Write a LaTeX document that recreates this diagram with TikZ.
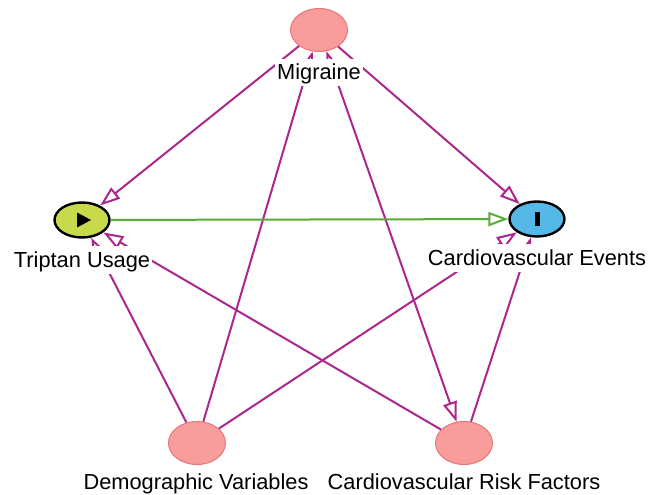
\documentclass[tikz,border=0pt]{standalone}
\usepackage{fontspec}
\setmainfont{Liberation Sans}
\usepackage{tikz}
\usetikzlibrary{shapes,arrows.meta}
\usepackage{color}

\definecolor{varfill}{RGB}{249,156,156}
\definecolor{varline}{RGB}{232,118,118}
\definecolor{expfill}{RGB}{200,218,76}
\definecolor{outfill}{RGB}{86,184,230}
\definecolor{biasedge}{RGB}{172,38,140}
\definecolor{causaledge}{RGB}{86,172,52}

\tikzset{
  var/.style={ellipse, draw=varline, fill=varfill, line width=1pt,
    minimum width=57pt, minimum height=43pt, inner sep=0pt},
  exposure/.style={var, draw=black, fill=expfill, line width=2.4pt,
    minimum width=55pt, minimum height=35pt},
  outcome/.style={exposure, fill=outfill},
  varlabel/.style={anchor=base, fill=white, inner sep=2pt,
    text height=19pt, text depth=4.5pt,
    font=\fontsize{21.8}{24}\selectfont},
  biased/.style={draw=biasedge, line width=2pt, -{Triangle[open, length=20pt, width=14pt]}},
  causal/.style={biased, draw=causaledge},
}

\begin{document}
\begin{tikzpicture}[x=1pt, y=-1pt]
    \useasboundingbox (0,0) rectangle (649,495);

    % vertices
    \node[var] (mig) at (319, 30) {};
    \node[exposure] (trip) at (82, 220) {};
    \node[outcome] (cve) at (537, 219) {};
    \node[var] (dem) at (197, 443) {};
    \node[var] (crf) at (464, 443) {};

    % draw diagram
    \draw[biased] (mig) -- (trip);
    \draw[biased] (mig) -- (cve);
    \draw[biased, {Triangle[open, length=20pt, width=14pt]}-{Triangle[open, length=20pt, width=14pt]}] (mig) -- (crf);
    \draw[biased] (dem) -- (mig);
    \draw[biased] (dem) -- (trip);
    \draw[biased] (dem) -- (cve);
    \draw[biased] (crf) -- (trip);
    \draw[biased] (crf) -- (cve);
    \draw[causal] (trip) -- (cve);

    % markers
    \fill (trip.center) ++(-5,-7.5) -- ++(0,15) -- ++(14,-7.5) -- cycle;
    \fill (cve.center) ++(-2.5,-7) rectangle ++(5,14);

    % labels
    \node[varlabel] (miglabel) at (319, 80) {Migraine};
    \node[varlabel] (triplabel) at (82, 267) {Triptan Usage};
    \node[varlabel] (cvelabel) at (537, 265) {Cardiovascular Events};
    \node[varlabel] (demlabel) at (196, 489) {Demographic Variables};
    \node[varlabel] (crflabel) at (464, 489) {Cardiovascular Risk Factors};
\end{tikzpicture}
\end{document}
